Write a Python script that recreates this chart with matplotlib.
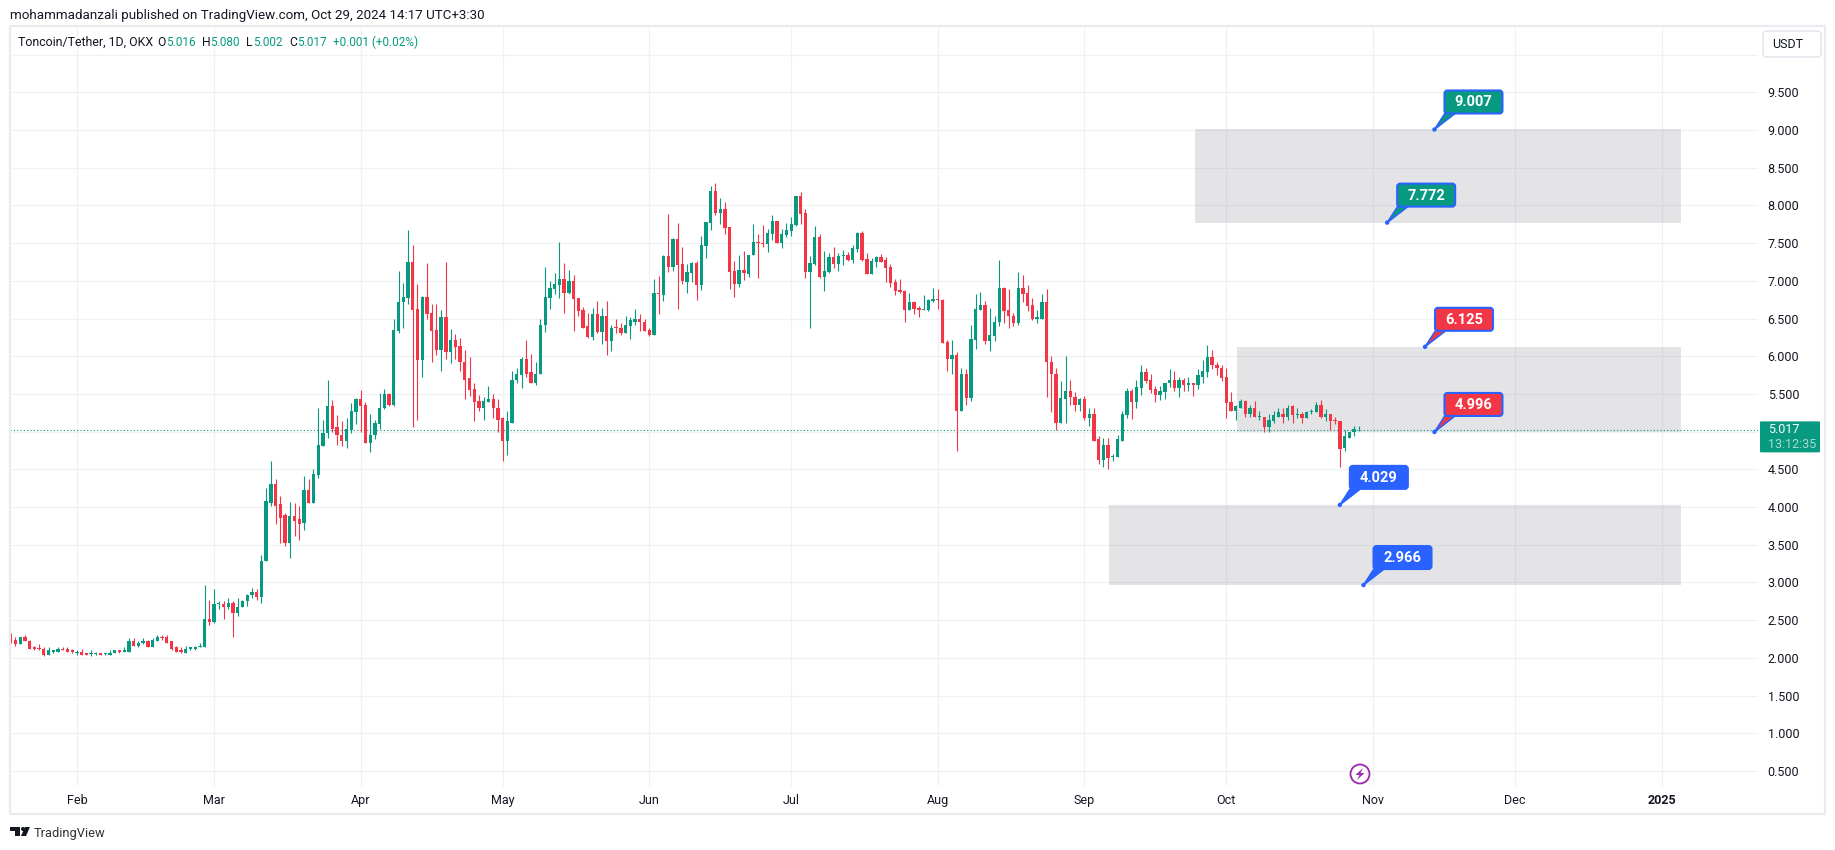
import numpy as np
import matplotlib
matplotlib.use('Agg')
import matplotlib.pyplot as plt
from matplotlib.patches import FancyBboxPatch, Polygon, Rectangle, Circle

plt.rcParams['font.family'] = ['Roboto', 'DejaVu Sans']

# Daily candles, first one is Jan 18 2024, last one Oct 29 2024
opens = [2.28, 2.24, 2.19, 2.28, 2.23, 2.14, 2.12, 2.12, 2.04, 2.08,
         2.08, 2.12, 2.12, 2.10, 2.07, 2.08, 2.06, 2.05, 2.05, 2.06,
         2.05, 2.04, 2.06, 2.10, 2.08, 2.08, 2.22, 2.16, 2.20, 2.22,
         2.15, 2.23, 2.28, 2.28, 2.22, 2.14, 2.10, 2.07, 2.12, 2.12,
         2.14, 2.15, 2.52, 2.48, 2.71, 2.72, 2.67, 2.73, 2.59, 2.67,
         2.75, 2.83, 2.88, 2.81, 3.28, 4.06, 4.31, 4.04, 3.89, 3.52,
         3.88, 3.84, 3.79, 4.23, 4.06, 4.43, 4.81, 4.98, 5.34, 5.06,
         4.96, 4.88, 5.02, 5.26, 5.43, 5.35, 4.85, 4.95, 5.10, 5.31,
         5.50, 5.35, 6.33, 6.72, 6.77, 7.25, 6.62, 5.95, 6.78, 6.57,
         6.35, 6.08, 6.52, 6.05, 6.21, 6.13, 5.93, 5.71, 5.56, 5.40,
         5.32, 5.39, 5.43, 5.32, 5.18, 4.88, 5.12, 5.68, 5.75, 5.97,
         5.79, 5.64, 5.76, 6.41, 6.77, 6.89, 6.94, 7.02, 6.84, 7.00,
         6.77, 6.61, 6.40, 6.25, 6.56, 6.32, 6.54, 6.20, 6.38, 6.38,
         6.31, 6.40, 6.46, 6.50, 6.46, 6.35, 6.28, 6.84, 6.81, 7.33,
         7.19, 7.55, 7.22, 6.98, 7.10, 7.23, 6.94, 7.46, 7.77, 8.19,
         7.90, 7.95, 7.71, 7.13, 6.96, 7.15, 7.09, 7.34, 7.51, 7.50,
         7.49, 7.62, 7.79, 7.50, 7.61, 7.66, 7.74, 8.12, 7.90, 7.12,
         7.22, 7.58, 7.05, 7.12, 7.31, 7.22, 7.33, 7.34, 7.27, 7.42,
         7.63, 7.29, 7.09, 7.25, 7.31, 7.27, 7.18, 6.98, 6.88, 6.86,
         6.61, 6.72, 6.64, 6.61, 6.61, 6.73, 6.76, 6.74, 6.19, 5.97,
         6.01, 5.27, 5.76, 5.44, 6.21, 6.61, 6.68, 6.20, 6.27, 6.45,
         6.90, 6.61, 6.54, 6.44, 6.90, 6.84, 6.68, 6.50, 6.50, 6.72,
         5.93, 5.77, 5.12, 5.43, 5.54, 5.46, 5.36, 5.43, 5.18, 5.23,
         4.90, 4.62, 4.82, 4.66, 4.66, 4.88, 5.22, 5.54, 5.39, 5.58,
         5.79, 5.68, 5.56, 5.48, 5.52, 5.64, 5.69, 5.58, 5.68, 5.62,
         5.65, 5.62, 5.73, 5.79, 5.99, 5.89, 5.85, 5.72, 5.39, 5.28,
         5.32, 5.40, 5.23, 5.32, 5.19, 5.20, 5.06, 5.14, 5.20, 5.24,
         5.19, 5.34, 5.22, 5.23, 5.18, 5.26, 5.26, 5.36, 5.19, 5.23,
         5.15, 5.14, 4.78, 4.92, 4.99, 5.016]

highs = [2.33, 2.28, 2.28, 2.31, 2.24, 2.16, 2.19, 2.14, 2.14, 2.11,
         2.15, 2.15, 2.15, 2.12, 2.10, 2.12, 2.07, 2.10, 2.08, 2.07,
         2.07, 2.10, 2.10, 2.10, 2.15, 2.26, 2.27, 2.23, 2.27, 2.24,
         2.26, 2.31, 2.31, 2.31, 2.23, 2.16, 2.14, 2.16, 2.15, 2.16,
         2.20, 2.96, 2.77, 2.91, 2.76, 2.75, 2.79, 2.76, 2.79, 2.77,
         2.85, 2.93, 2.91, 3.36, 4.25, 4.61, 4.37, 4.15, 3.92, 4.07,
         4.06, 4.02, 4.41, 4.37, 4.50, 5.31, 5.15, 5.69, 5.42, 5.22,
         5.14, 5.18, 5.38, 5.44, 5.55, 5.39, 5.23, 5.16, 5.51, 5.56,
         5.51, 6.50, 7.13, 6.97, 7.67, 7.47, 6.96, 6.80, 7.23, 6.69,
         6.69, 6.61, 7.25, 6.36, 6.29, 6.24, 6.08, 5.99, 5.64, 5.48,
         5.46, 5.60, 5.50, 5.43, 5.19, 5.28, 5.81, 5.85, 5.99, 6.21,
         6.03, 5.93, 6.49, 7.19, 7.00, 7.10, 7.51, 7.23, 7.14, 7.08,
         6.77, 6.65, 6.57, 6.64, 6.73, 6.64, 6.73, 6.41, 6.50, 6.44,
         6.53, 6.52, 6.62, 6.56, 6.50, 6.38, 7.02, 7.06, 7.34, 7.88,
         7.57, 7.77, 7.45, 7.22, 7.25, 7.26, 7.59, 7.78, 8.26, 8.30,
         8.10, 8.04, 7.71, 7.26, 7.34, 7.39, 7.34, 7.75, 7.62, 7.74,
         7.69, 7.87, 7.79, 7.69, 7.77, 7.85, 8.12, 8.18, 7.95, 7.33,
         7.73, 7.62, 7.39, 7.37, 7.45, 7.37, 7.41, 7.38, 7.47, 7.65,
         7.66, 7.37, 7.30, 7.33, 7.35, 7.31, 7.22, 7.02, 7.02, 6.88,
         6.84, 6.73, 6.66, 6.81, 6.76, 6.90, 6.89, 6.76, 6.21, 6.21,
         6.05, 5.84, 5.83, 6.42, 6.82, 6.85, 6.73, 6.64, 6.54, 7.27,
         6.92, 6.89, 6.58, 7.12, 7.08, 6.94, 6.77, 6.61, 6.82, 6.89,
         6.00, 5.84, 5.67, 6.00, 5.68, 5.52, 5.44, 5.47, 5.31, 5.31,
         4.94, 4.92, 4.91, 4.70, 4.95, 5.28, 5.58, 5.56, 5.69, 5.89,
         5.84, 5.77, 5.60, 5.60, 5.65, 5.83, 5.81, 5.73, 5.71, 5.73,
         5.65, 5.83, 5.95, 6.15, 6.08, 5.92, 5.88, 5.85, 5.52, 5.36,
         5.43, 5.42, 5.36, 5.40, 5.27, 5.20, 5.23, 5.27, 5.32, 5.32,
         5.36, 5.35, 5.31, 5.26, 5.27, 5.30, 5.39, 5.42, 5.30, 5.24,
         5.19, 5.14, 5.02, 5.00, 5.07, 5.08]

lows = [2.20, 2.16, 2.18, 2.22, 2.12, 2.11, 2.11, 2.03, 2.04, 2.06,
        2.08, 2.11, 2.08, 2.06, 2.04, 2.04, 2.04, 2.02, 2.04, 2.04,
        2.04, 2.04, 2.06, 2.06, 2.08, 2.08, 2.16, 2.15, 2.18, 2.15,
        2.14, 2.23, 2.24, 2.20, 2.11, 2.08, 2.07, 2.07, 2.10, 2.10,
        2.14, 2.15, 2.44, 2.46, 2.65, 2.52, 2.65, 2.28, 2.56, 2.67,
        2.69, 2.79, 2.77, 2.73, 3.28, 4.01, 3.78, 3.52, 3.48, 3.33,
        3.62, 3.56, 3.70, 4.05, 4.05, 4.39, 4.81, 4.92, 4.99, 4.82,
        4.81, 4.78, 4.98, 5.10, 5.00, 4.85, 4.73, 4.90, 5.04, 5.30,
        5.34, 5.34, 6.31, 6.37, 6.69, 5.06, 5.16, 5.72, 6.50, 5.92,
        6.01, 5.81, 5.96, 5.91, 5.97, 5.80, 5.43, 5.47, 5.14, 5.27,
        5.15, 5.39, 5.18, 5.00, 4.61, 4.69, 5.11, 5.65, 5.58, 5.73,
        5.64, 5.62, 5.76, 6.32, 6.62, 6.82, 6.77, 6.58, 6.82, 6.33,
        6.54, 6.37, 6.24, 6.21, 6.31, 6.16, 6.01, 6.07, 6.31, 6.28,
        6.31, 6.23, 6.41, 6.33, 6.33, 6.27, 6.28, 6.56, 6.73, 7.12,
        7.13, 6.62, 6.96, 6.84, 6.98, 6.74, 6.88, 7.30, 7.67, 7.87,
        7.75, 7.62, 6.89, 6.78, 6.92, 7.01, 7.05, 7.34, 7.04, 7.45,
        7.38, 7.54, 7.50, 7.43, 7.58, 7.59, 7.73, 7.75, 7.04, 6.37,
        7.21, 7.04, 6.86, 7.10, 7.17, 7.13, 7.21, 7.26, 7.23, 7.38,
        7.26, 7.09, 7.09, 7.19, 7.25, 6.98, 6.92, 6.81, 6.84, 6.46,
        6.61, 6.56, 6.52, 6.61, 6.60, 6.72, 6.62, 6.17, 5.81, 5.76,
        4.74, 5.27, 5.35, 5.40, 6.09, 6.61, 6.16, 6.07, 6.20, 6.40,
        6.44, 6.38, 6.40, 6.42, 6.72, 6.60, 6.48, 6.44, 6.50, 5.46,
        5.26, 5.02, 5.12, 5.12, 5.36, 5.27, 5.28, 5.15, 5.08, 4.87,
        4.57, 4.53, 4.50, 4.61, 4.66, 4.88, 5.18, 5.17, 5.32, 5.48,
        5.65, 5.51, 5.39, 5.42, 5.43, 5.59, 5.54, 5.46, 5.54, 5.54,
        5.47, 5.56, 5.64, 5.72, 5.83, 5.75, 5.67, 5.18, 5.27, 5.15,
        5.31, 5.19, 5.19, 5.19, 5.15, 5.00, 5.00, 5.12, 5.20, 5.12,
        5.16, 5.12, 5.18, 5.11, 5.18, 5.23, 5.26, 5.18, 5.14, 5.02,
        5.10, 4.53, 4.74, 4.91, 4.94, 5.002]

closes = [2.23, 2.19, 2.28, 2.22, 2.12, 2.12, 2.115, 2.04, 2.10, 2.10,
          2.12, 2.11, 2.08, 2.08, 2.08, 2.04, 2.04, 2.06, 2.06, 2.04,
          2.06, 2.07, 2.10, 2.08, 2.10, 2.22, 2.16, 2.20, 2.22, 2.15,
          2.24, 2.28, 2.27, 2.20, 2.12, 2.08, 2.08, 2.12, 2.14, 2.15,
          2.16, 2.52, 2.48, 2.72, 2.72, 2.67, 2.73, 2.59, 2.68, 2.76,
          2.84, 2.88, 2.81, 3.29, 4.08, 4.31, 4.02, 3.86, 3.52, 3.88,
          3.82, 3.78, 4.23, 4.06, 4.44, 4.82, 4.98, 5.34, 5.04, 4.95,
          4.88, 5.03, 5.27, 5.43, 5.34, 4.85, 4.96, 5.11, 5.32, 5.50,
          5.35, 6.35, 6.72, 6.78, 7.25, 6.61, 5.95, 6.78, 6.56, 6.33,
          6.08, 6.52, 6.05, 6.21, 6.12, 5.92, 5.69, 5.55, 5.39, 5.32,
          5.40, 5.43, 5.31, 5.16, 4.87, 5.14, 5.69, 5.76, 5.97, 5.77,
          5.64, 5.77, 6.42, 6.78, 6.90, 6.96, 7.02, 6.84, 7.00, 6.76,
          6.60, 6.38, 6.25, 6.56, 6.32, 6.54, 6.20, 6.38, 6.37, 6.31,
          6.41, 6.48, 6.50, 6.45, 6.33, 6.28, 6.84, 6.82, 7.33, 7.19,
          7.55, 7.21, 7.00, 7.12, 7.23, 6.94, 7.47, 7.78, 8.19, 7.90,
          7.95, 7.70, 7.12, 6.96, 7.15, 7.10, 7.34, 7.51, 7.50, 7.49,
          7.63, 7.79, 7.50, 7.62, 7.67, 7.75, 8.12, 7.88, 7.12, 7.23,
          7.58, 7.05, 7.13, 7.31, 7.22, 7.33, 7.34, 7.27, 7.43, 7.63,
          7.27, 7.09, 7.26, 7.31, 7.25, 7.17, 6.97, 6.86, 6.85, 6.61,
          6.72, 6.62, 6.61, 6.62, 6.74, 6.76, 6.74, 6.17, 5.97, 6.01,
          5.27, 5.76, 5.44, 6.23, 6.62, 6.68, 6.20, 6.28, 6.46, 6.90,
          6.60, 6.53, 6.44, 6.90, 6.82, 6.66, 6.49, 6.52, 6.72, 5.92,
          5.76, 5.12, 5.44, 5.54, 5.46, 5.36, 5.43, 5.18, 5.23, 4.88,
          4.62, 4.82, 4.65, 4.67, 4.90, 5.23, 5.54, 5.39, 5.59, 5.79,
          5.67, 5.55, 5.48, 5.54, 5.64, 5.69, 5.58, 5.68, 5.62, 5.65,
          5.62, 5.75, 5.80, 5.99, 5.88, 5.84, 5.71, 5.38, 5.28, 5.34,
          5.40, 5.23, 5.32, 5.19, 5.20, 5.06, 5.15, 5.22, 5.26, 5.19,
          5.32, 5.22, 5.23, 5.18, 5.26, 5.27, 5.36, 5.19, 5.23, 5.14,
          5.14, 4.77, 4.94, 5.00, 5.03, 5.017]

# Tick labels, positions are days after Jan 18
month_days = [14, 43, 74, 104, 135, 165, 196, 227, 257, 288, 318, 349]
month_labels = ['Feb', 'Mar', 'Apr', 'May', 'Jun', 'Jul', 'Aug', 'Sep', 'Oct', 'Nov', 'Dec', '2025']
price_ticks = [0.5, 1.0, 1.5, 2.0, 2.5, 3.0, 3.5, 4.0, 4.5, 5.0, 5.5, 6.0, 6.5, 7.0, 7.5, 8.0, 8.5, 9.0, 9.5, 10.0]
hidden_ticks = [5.0, 10.0]

# Gray zones: start day, end day, low, high
zone_starts = [250.4, 259.3, 232.2]
zone_ends = [353.1, 353.1, 353.1]
zone_lows = [7.772, 4.996, 2.966]
zone_highs = [9.007, 6.125, 4.029]

# Price callouts
callout_days = [301, 291, 299, 301, 281, 286]
callout_prices = [9.007, 7.772, 6.125, 4.996, 4.029, 2.966]
callout_colors = ['#089981', '#089981', '#f23645', '#f23645', '#2962ff', '#2962ff']

last_price = 5.017

GREEN = '#089981'
RED = '#f23645'
BLUE = '#2962ff'
DARK = '#131722'
GRID = '#f0f1f4'
FRAME = '#eaebf1'

W, H = 1835, 850
fig = plt.figure(figsize=(W / 100, H / 100), dpi=100, facecolor='white')

# Main pane in pixel position: x 10..1758, y 27..786
ax = fig.add_axes([10 / W, (H - 786) / H, 1748 / W, 759 / H])
ax.set_xlim(-0.148, 369.4)
ax.set_ylim(0.301, 10.366)
for s in ax.spines.values():
    s.set_visible(False)

ax.set_xticks(month_days)
ax.set_xticklabels(month_labels, fontsize=9, color=DARK)
ax.get_xticklabels()[-1].set_fontweight('bold')
ax.set_yticks(price_ticks)
ax.set_yticklabels(['' if p in hidden_ticks else f'{p:.3f}' for p in price_ticks], fontsize=9, color=DARK)
ax.yaxis.tick_right()
ax.tick_params(axis='x', length=0, pad=6)
ax.tick_params(axis='y', length=0, pad=7)
ax.grid(True, color=GRID, linewidth=0.9)
ax.set_axisbelow(True)

# Zones
for x0, x1, lo, hi in zip(zone_starts, zone_ends, zone_lows, zone_highs):
    ax.add_patch(Rectangle((x0, lo), x1 - x0, hi - lo, facecolor='#787b86', alpha=0.2, linewidth=0, zorder=1.5))

# Candles
days = np.arange(len(opens))
o = np.array(opens)
c = np.array(closes)
colors = [GREEN if cl >= op else RED for op, cl in zip(o, c)]
ax.vlines(days, lows, highs, colors=colors, linewidth=0.8, zorder=3)
body_low = np.minimum(o, c)
body_high = np.maximum(np.maximum(o, c), body_low + 0.012)
ax.bar(days, body_high - body_low, bottom=body_low, width=0.7, color=colors, linewidth=0, zorder=3.1)

# Last price line
ax.axhline(last_price, color=GREEN, linewidth=0.8, linestyle=(0, (1, 2)), zorder=2.5)

# Overlay in pixels for everything around the chart
ov = fig.add_axes([0, 0, 1, 1], facecolor='none')
ov.set_xlim(0, W)
ov.set_ylim(H, 0)
ov.axis('off')


def to_px(x, y):
    a = ax.transData.transform((x, y))
    return a[0], H - a[1]


ov.add_patch(Rectangle((9.5, 26), 1815, 788, fill=False, edgecolor=FRAME, linewidth=1.6))

# Header
ov.text(10, 15, 'mohammadanzali published on TradingView.com, Oct 29, 2024 14:17 UTC+3:30',
        fontsize=9.64, color=DARK, va='center')
ov.text(18, 42, 'Toncoin/Tether, 1D, OKX', fontsize=8.9, color=DARK, va='center')
for x, s in zip([157, 202, 246, 289], ['O', 'H', 'L', 'C']):
    ov.text(x, 42, s, fontsize=8.7, color=DARK, va='center')
for x, s in zip([166, 210, 253, 297, 333], ['5.016', '5.080', '5.002', '5.017', '+0.001 (+0.02%)']):
    ov.text(x, 42, s, fontsize=8.5, color=GREEN, va='center')

# USDT button
ov.add_patch(FancyBboxPatch((1763, 31), 58, 26, boxstyle='round,pad=0,rounding_size=4',
                            facecolor='white', edgecolor='#e0e3eb', linewidth=1))
ov.text(1772, 44, 'USDT', fontsize=9, color=DARK, va='center')

# Last price tag
_, tag_y = to_px(0, last_price)
ov.add_patch(FancyBboxPatch((1760, tag_y - 9), 60, 31, boxstyle='round,pad=0,rounding_size=1',
                            facecolor=GREEN, edgecolor='none'))
ov.text(1768, tag_y - 1, f'{last_price:.3f}', fontsize=9, color='white', va='center')
ov.text(1768, tag_y + 14, '13:12:35', fontsize=9, color='#a8dccf', va='center')

# Callouts
for d, p, col in zip(callout_days, callout_prices, callout_colors):
    ax0, ay0 = to_px(d, p)
    ov.add_patch(Polygon([(ax0, ay0), (ax0 + 11, ay0 - 17), (ax0 + 22, ay0 - 17)], closed=True,
                         facecolor=col, edgecolor=BLUE, linewidth=1.1, zorder=5))
    ov.add_patch(FancyBboxPatch((ax0 + 10, ay0 - 39), 58, 23, boxstyle='round,pad=0,rounding_size=3',
                                facecolor=col, edgecolor=BLUE, linewidth=1.5, zorder=6))
    ov.add_patch(Circle((ax0, ay0), 2.2, facecolor=BLUE, edgecolor='none', zorder=7))
    ov.text(ax0 + 39, ay0 - 27, f'{p:.3f}', fontsize=10.5, fontweight='bold', color='white',
            ha='center', va='center', zorder=8)

# Lightning mark
ov.add_patch(Circle((1360, 774), 9.5, facecolor='white', edgecolor='#9c27b0', linewidth=1.3, zorder=5))
ov.add_patch(Polygon([(1363, 768), (1355.5, 775), (1359.5, 775), (1357, 780), (1364.5, 773), (1360.5, 773)],
                     closed=True, facecolor='#9c27b0', edgecolor='none', zorder=6))

# TradingView logo and name
ov.add_patch(Polygon([(10, 827), (20, 827), (20, 836), (15, 836), (15, 831), (10, 831)], closed=True,
                     facecolor=DARK, edgecolor='none'))
ov.add_patch(Circle((23, 829), 2, facecolor=DARK, edgecolor='none'))
ov.add_patch(Polygon([(25, 827), (30, 827), (26, 836), (21, 836)], closed=True, facecolor=DARK, edgecolor='none'))
ov.text(34, 833, 'TradingView', fontsize=9.3, color='#333333', va='center')

fig.savefig('out.png', dpi=100)
